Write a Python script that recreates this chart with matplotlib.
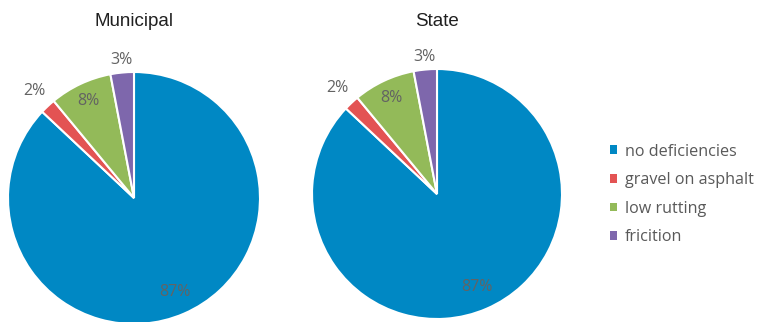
import matplotlib
matplotlib.use("Agg")
import matplotlib.pyplot as plt
import numpy as np
from matplotlib.patches import Patch

categories = ["no deficiencies", "gravel on asphalt", "low rutting", "fricition"]
municipal = [87, 2, 8, 3]
state = [87, 2, 8, 3]
titles = ["Municipal", "State"]
colors = ["#0088C4", "#E35353", "#93BA59", "#7E67AC"]
label_r = [0.81, 1.16, 0.85, 1.10]

W, H = 758, 322
fig = plt.figure(figsize=(W / 100, H / 100), dpi=100)

def draw(ax, vals):
    ax.pie(vals, colors=colors, startangle=90, counterclock=False,
           radius=1, wedgeprops=dict(edgecolor="white", linewidth=1.5))
    total = sum(vals)
    cum = 0
    for v, r in zip(vals, label_r):
        mid = 90 - (cum + v / 2) / total * 360
        cum += v
        a = np.deg2rad(mid)
        ax.text(r * np.cos(a), r * np.sin(a), f"{round(v / total * 100)}%",
                ha="center", va="center", fontsize=11.5, color="#636363",
                family="Open Sans")
    ax.set_xlim(-1, 1)
    ax.set_ylim(-1, 1)
    ax.set_aspect("equal")
    ax.axis("off")

ax1 = fig.add_axes([8 / W, -2 / H, 252 / W, 252 / H])
draw(ax1, municipal)
ax2 = fig.add_axes([312 / W, 3 / H, 250 / W, 250 / H])
draw(ax2, state)

fig.text(134 / W, 1 - 21 / H, titles[0], ha="center", va="center",
         fontsize=13.5, color="#202020", family="Liberation Sans")
fig.text(437 / W, 1 - 21 / H, titles[1], ha="center", va="center",
         fontsize=13.5, color="#202020", family="Liberation Sans")

handles = [Patch(facecolor=c, edgecolor="none") for c in colors]
fig.legend(handles, categories, loc="upper left",
           bbox_to_anchor=(595 / W, 1 - 129 / H), frameon=False,
           handlelength=0.45, handleheight=0.45, handletextpad=0.5,
           labelspacing=0.78, prop=dict(family="Open Sans", size=11.6),
           labelcolor="#595959")

fig.savefig("out.png", dpi=100)
